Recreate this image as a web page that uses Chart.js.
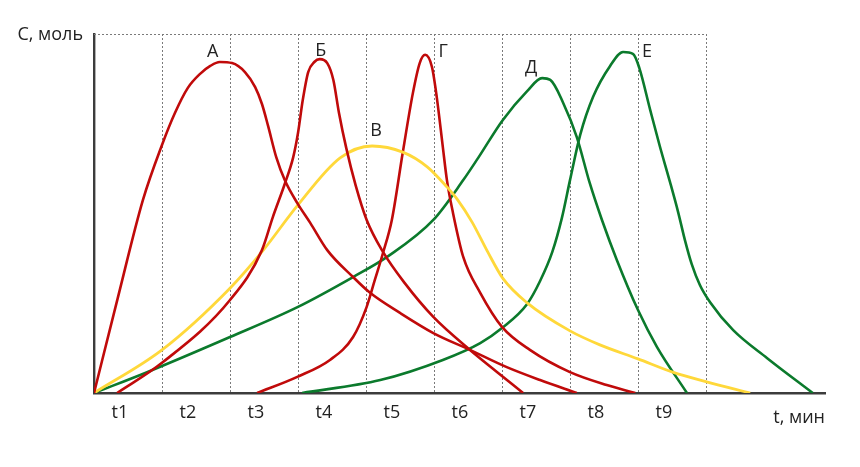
<!DOCTYPE html>
<html>
<head>
<meta charset="utf-8">
<script src="https://cdn.jsdelivr.net/npm/chart.js@4"></script>
<style>
  body { margin: 0; background: #fff; }
  #wrap { width: 860px; height: 467px; }
</style>
</head>
<body>
<div id="wrap"><canvas id="chart"></canvas></div>
<script>
// time in grid intervals (t), concentration in % of axis height
const tA = [0, 0.35, 0.72, 1.0, 1.19, 1.38, 1.56, 1.71, 1.85, 2.03, 2.22, 2.37, 2.47, 2.56, 2.68, 2.81, 2.99, 3.18, 3.43, 3.81, 4.06, 4.5, 4.99, 5.53, 6.07, 6.56, 7.1];
const cA = [0, 26.5, 53.8, 69.1, 78.0, 85.0, 88.9, 91.1, 92.2, 91.9, 89.4, 85.2, 80.5, 74.4, 65.7, 59.1, 52.9, 47.4, 39.8, 32.3, 27.9, 22.3, 16.7, 12.0, 7.2, 3.6, 0];

const tB = [0.34, 1.0, 2.0, 2.47, 2.63, 2.81, 2.93, 3.0, 3.07, 3.15, 3.24, 3.32, 3.43, 3.52, 3.6, 3.71, 3.85, 4.01, 4.25, 4.57, 4.99, 5.53, 5.93, 6.31];
const cB = [0, 8.4, 25.9, 39.8, 49.0, 58.5, 65.7, 72.4, 81.6, 89.4, 92.2, 93.0, 91.9, 87.2, 78.3, 68.2, 57.7, 48.2, 39.3, 30.6, 21.2, 12.0, 5.8, 0];

const tV = [0, 1.0, 2.0, 2.49, 3.0, 3.62, 4.09, 4.54, 4.9, 5.19, 5.34, 5.56, 5.79, 6.01, 6.37, 7.0, 7.44, 8.0, 8.51, 9.01, 9.65];
const cV = [0, 12.0, 29.2, 39.8, 52.4, 65.5, 68.8, 67.1, 63.0, 57.4, 54.0, 47.6, 39.3, 32.0, 25.1, 17.3, 13.4, 9.5, 5.8, 3.1, 0];

const tG = [2.4, 2.99, 3.47, 3.81, 4.01, 4.13, 4.25, 4.38, 4.54, 4.69, 4.79, 4.87, 4.97, 5.04, 5.13, 5.19, 5.28, 5.43, 5.68, 6.0, 6.41, 7.0, 7.54, 7.96];
const cG = [0, 4.5, 9.2, 15.6, 24.0, 31.5, 39.0, 48.2, 66.9, 83.6, 91.9, 94.2, 90.8, 82.5, 68.5, 59.3, 50.1, 37.9, 27.9, 18.4, 12.0, 5.8, 2.2, 0];

const tD = [0, 0.78, 2.0, 3.0, 3.81, 4.31, 4.99, 5.43, 5.65, 6.01, 6.37, 6.59, 6.71, 6.9, 7.1, 7.29, 7.47, 7.69, 8.0, 8.28, 8.72];
const cD = [0, 5.8, 15.6, 24.0, 32.3, 37.9, 48.2, 59.3, 65.5, 76.0, 84.1, 87.7, 87.2, 80.8, 71.3, 58.5, 48.2, 37.0, 23.1, 12.8, 0];

const tE = [3.06, 4.21, 5.13, 5.68, 6.0, 6.37, 6.56, 6.74, 6.88, 7.0, 7.15, 7.34, 7.59, 7.78, 7.93, 8.02, 8.18, 8.32, 8.47, 8.59, 8.69, 8.79, 8.91, 9.06, 9.4, 9.9, 10.57];
const cE = [0, 3.6, 9.2, 13.9, 18.1, 24.8, 31.2, 39.3, 48.7, 59.3, 71.9, 82.5, 91.1, 95.0, 94.4, 90.5, 78.8, 68.8, 58.8, 50.4, 42.6, 35.9, 30.1, 25.3, 17.5, 9.7, 0];

const seriesNames = ['А', 'Б', 'В', 'Г', 'Д', 'Е'];
const tickLabels = ['t1', 't2', 't3', 't4', 't5', 't6', 't7', 't8', 't9'];
const gridTimes = [1, 2, 3, 4, 5, 6, 7, 8, 9];

const RED = '#c00a0a';
const GREEN = '#0b7a2c';
const YELLOW = '#ffd83a';
const FONT = '"Open Sans", "Noto Sans", sans-serif';

// label offsets from each curve's peak (px)
const labelOffsets = [[-7, -10], [1, -8], [4, -15], [18, -3], [-11, -10], [24, 0]];
const labelShift = 0.38;

function toPoints(ts, cs) {
    return ts.map((t, i) => ({ x: t, y: cs[i] }));
}

const seriesData = [[tA, cA], [tB, cB], [tV, cV], [tG, cG], [tD, cD], [tE, cE]];
const seriesColors = [RED, RED, YELLOW, RED, GREEN, GREEN];

const datasets = seriesData.map((s, i) => ({
    label: seriesNames[i],
    data: toPoints(s[0], s[1]),
    borderColor: seriesColors[i],
    borderWidth: seriesColors[i] === YELLOW ? 2.8 : 2.6,
    pointRadius: 0,
    fill: false,
    cubicInterpolationMode: 'monotone'
}));

const annotations = {
    id: 'annotations',
    beforeDatasetsDraw(chart) {
        const { ctx, chartArea, scales } = chart;
        // dotted top border of the grid box
        ctx.save();
        ctx.strokeStyle = '#7a7a7a';
        ctx.lineWidth = 1;
        ctx.setLineDash([2, 2]);
        ctx.beginPath();
        ctx.moveTo(scales.x.getPixelForValue(0), chartArea.top + 0.5);
        ctx.lineTo(scales.x.getPixelForValue(gridTimes[gridTimes.length - 1]), chartArea.top + 0.5);
        ctx.stroke();
        ctx.restore();
    },
    afterDraw(chart) {
        const { ctx, chartArea, scales } = chart;
        ctx.save();
        ctx.font = '18px ' + FONT;
        ctx.fillStyle = '#222';
        ctx.textBaseline = 'middle';

        ctx.textAlign = 'right';
        ctx.fillText('С, моль', chartArea.left - 11, chartArea.top + 1);
        ctx.fillText('t, мин', chartArea.right, chartArea.bottom + 25);

        // curve names next to their peaks
        ctx.textAlign = 'center';
        chart.data.datasets.forEach((ds, i) => {
            let peak = ds.data[0];
            ds.data.forEach(p => { if (p.y > peak.y) peak = p; });
            const px = scales.x.getPixelForValue(peak.x) + labelOffsets[i][0];
            const py = scales.y.getPixelForValue(peak.y) + labelOffsets[i][1];
            ctx.fillText(ds.label, px, py);
        });
        ctx.restore();
    }
};

new Chart(document.getElementById('chart'), {
    type: 'line',
    data: { datasets: datasets },
    options: {
        responsive: true,
        maintainAspectRatio: false,
        animation: false,
        layout: { padding: { left: 94, right: 35, top: 34, bottom: 0 } },
        plugins: {
            legend: { display: false },
            tooltip: { enabled: false }
        },
        scales: {
            x: {
                type: 'linear',
                min: 0,
                max: 10.75,
                afterBuildTicks: scale => { scale.ticks = gridTimes.map(v => ({ value: v })); },
                afterFit: scale => { scale.height = 0; },
                ticks: { display: false },
                grid: { color: '#7a7a7a', lineWidth: 1, drawTicks: false },
                border: { display: true, color: '#3c3c3c', width: 2.6, dash: [2, 2] }
            },
            x2: {
                type: 'linear',
                position: 'bottom',
                min: 0,
                max: 10.75,
                afterBuildTicks: scale => { scale.ticks = tickLabels.map((l, i) => ({ value: i + labelShift })); },
                afterFit: scale => { scale.height = 74; },
                ticks: {
                    autoSkip: false,
                    maxRotation: 0,
                    padding: 9,
                    color: '#222',
                    font: { size: 18, family: FONT },
                    callback: (v, i) => tickLabels[i]
                },
                grid: { display: false, drawTicks: false },
                border: { display: false }
            },
            y: {
                min: 0,
                max: 100,
                afterFit: scale => { scale.width = 0; },
                ticks: { display: false },
                grid: { display: false, drawTicks: false },
                border: { display: true, color: '#3c3c3c', width: 2.4 }
            }
        }
    },
    plugins: [annotations]
});
</script>
</body>
</html>
